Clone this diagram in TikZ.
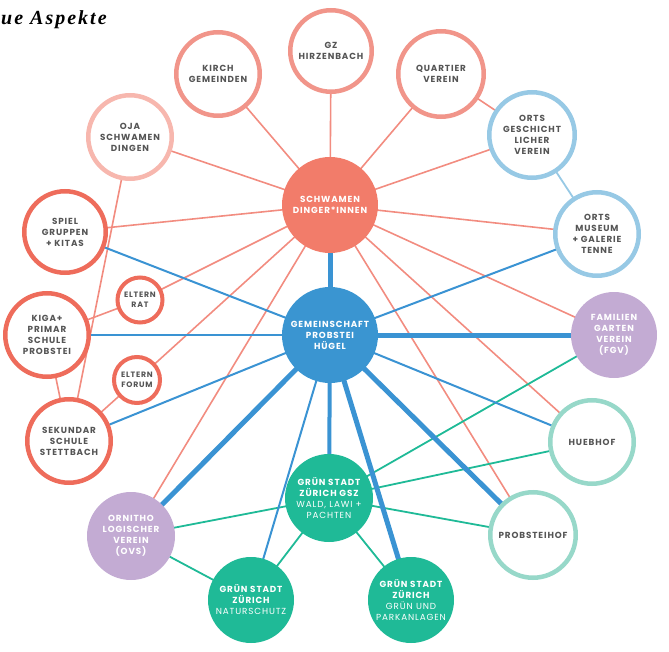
\documentclass[tikz,border=0pt]{standalone}
\usepackage{fontspec}
\setmainfont{Liberation Serif}
\newfontfamily\lbl{Poppins}[LetterSpace=10]
\newfontfamily\ttl{Liberation Serif}[LetterSpace=10]
\usetikzlibrary{backgrounds}
\definecolor{salA}{HTML}{F1958A}
\definecolor{salB}{HTML}{EE6C5B}
\definecolor{salC}{HTML}{F7B7AE}
\definecolor{salLine}{HTML}{F28C80}
\definecolor{schwFill}{HTML}{F27C6A}
\definecolor{blueFill}{HTML}{3A95D1}
\definecolor{blueLine}{HTML}{3A93D3}
\definecolor{lightBlue}{HTML}{97C9E5}
\definecolor{purp}{HTML}{C3ABD3}
\definecolor{mint}{HTML}{97D8C9}
\definecolor{teal}{HTML}{1FBA97}
\definecolor{txtgray}{HTML}{555555}
\begin{document}
\begin{tikzpicture}[x=1pt,y=-1pt,
  lblfont/.style={font=\lbl\bfseries\fontsize{8.8}{11}\selectfont},
  ring/.style={circle, draw, fill=white, line width=4.5pt, inner sep=0pt, align=center, text=txtgray, lblfont},
  smallring/.style={circle, draw, fill=white, line width=4pt, inner sep=0pt, align=center, text=txtgray, font=\lbl\bfseries\fontsize{7.8}{10.5}\selectfont},
  disc/.style={circle, inner sep=0pt, align=center, text=white, lblfont},
  eS/.style={draw=salLine, line width=1.6pt},
  eL/.style={draw=lightBlue, line width=1.8pt},
  eB/.style={draw=blueLine, line width=2pt},
  eBB/.style={draw=blueLine, line width=5pt},
  eBM/.style={draw=blueLine, line width=4pt},
  eG/.style={draw=teal, line width=1.8pt}
]
\useasboundingbox (0,0) rectangle (669,652);
\node[anchor=base west, inner sep=0pt, font=\ttl\fontsize{20}{22}\selectfont\bfseries\itshape] (title) at (1,25) {ue Aspekte};

% nodes
\node[ring, draw=salA, minimum size=81.5pt] (gz) at (331,51) {GZ\\HIRZENBACH};
\node[ring, draw=salA, minimum size=83.5pt] (kirch) at (218,74) {KIRCH\\GEMEINDEN};
\node[ring, draw=salA, minimum size=85.5pt] (quart) at (441,74) {QUARTIER\\VEREIN};
\node[ring, draw=salC, minimum size=83.5pt] (oja) at (130,137) {OJA\\SCHWAMEN\\DINGEN};
\node[ring, draw=salB, minimum size=81.5pt] (spiel) at (65,232) {SPIEL\\GRUPPEN\\+ KITAS};
\node[smallring, draw=salB, minimum size=45pt] (erat) at (140,300) {ELTERN\\RAT};
\node[ring, draw=salB, minimum size=83.5pt] (kiga) at (47,335) {KIGA+\\PRIMAR\\SCHULE\\PROBSTEI};
\node[smallring, draw=salB, minimum size=46pt] (eforum) at (137,380) {ELTERN\\FORUM};
\node[ring, draw=salB, minimum size=83.5pt] (sek) at (69,441) {SEKUNDAR\\SCHULE\\STETTBACH};
\node[disc, fill=schwFill, minimum size=96pt] (schw) at (330,205) {SCHWAMEN\\DINGER*INNEN};
\node[disc, fill=blueFill, minimum size=96pt] (gem) at (330,335) {GEMEINSCHAFT\\PROBSTEI\\HÜGEL};
\node[ring, draw=lightBlue, minimum size=85.5pt] (ogv) at (532,135) {ORTS\\GESCHICHT\\LICHER\\VEREIN};
\node[ring, draw=lightBlue, minimum size=83.5pt] (om) at (597,234) {ORTS\\MUSEUM\\+ GALERIE\\TENNE};
\node[disc, fill=purp, minimum size=86pt] (fgv) at (614,335) {FAMILIEN\\GARTEN\\VEREIN\\(FGV)};
\node[ring, draw=mint, minimum size=83.5pt] (hueb) at (592,442) {HUEBHOF};
\node[ring, draw=mint, minimum size=85.5pt] (probh) at (533,535) {PROBSTEIHOF};
\node[disc, fill=teal, minimum size=88pt] (gsz) at (329,498) {GRÜN STADT\\ZÜRICH GSZ\\{\mdseries WALD, LAWI +}\\{\mdseries PACHTEN}};
\node[disc, fill=teal, minimum size=86pt] (park) at (411,600) {GRÜN STADT\\ZÜRICH\\{\mdseries GRÜN UND}\\{\mdseries PARKANLAGEN}};
\node[disc, fill=teal, minimum size=86pt] (natur) at (251,600) {GRÜN STADT\\ZÜRICH\\{\mdseries NATURSCHUTZ}};
\node[disc, fill=purp, minimum size=88pt] (ovs) at (131,536) {ORNITHO\\LOGISCHER\\VEREIN\\(OVS)};

\begin{scope}[on background layer]
% salmon connectors
\foreach \t in {gz,kirch,quart,oja,spiel,erat,eforum,ogv,om,fgv,hueb,probh,ovs}
  \path[eS] (schw.center) -- (\t.center);
\path[eS] (kiga.center) -- (erat.center);
\path[eS] (sek.center) -- (eforum.center);
\path[eS] (oja.center) -- (sek.center);
\path[eS] (kiga.center) -- (sek.center);
\path[eS] (quart.center) -- (ogv.center);
\path[eL] (ogv.center) -- (om.center);
% green connectors
\foreach \t in {fgv,hueb,probh,ovs,natur,park}
  \path[eG] (gsz.center) -- (\t.center);
\path[eG] (ovs.center) -- (natur.center);
% blue connectors
\foreach \t in {spiel,kiga,sek,om,hueb,natur}
  \path[eB] (gem.center) -- (\t.center);
\foreach \t in {schw,fgv,probh,ovs,park}
  \path[eBB] (gem.center) -- (\t.center);
\path[eBM] (gem.center) -- (gsz.center);
\end{scope}
\end{tikzpicture}
\end{document}
